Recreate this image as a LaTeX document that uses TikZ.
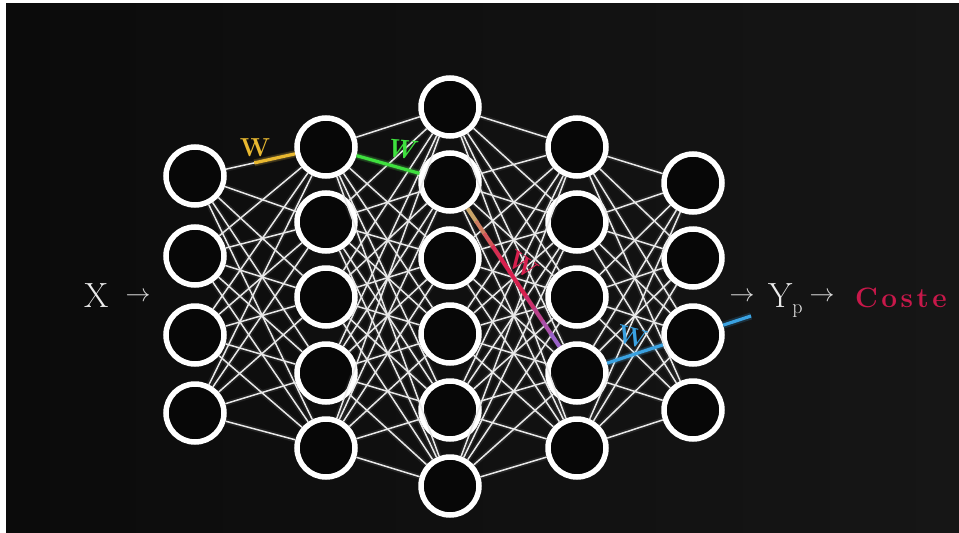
\documentclass[tikz,border=0pt]{standalone}
\usepackage{fontspec}

\definecolor{bgleft}{HTML}{0B0B0B}
\definecolor{bgright}{HTML}{161616}
\definecolor{cellfill}{HTML}{070707}
\definecolor{synwhite}{HTML}{E8E8E8}
\definecolor{wyellow}{HTML}{E8B830}
\definecolor{wgreen}{HTML}{3EE03E}
\definecolor{wtan}{HTML}{C8A468}
\definecolor{wred}{HTML}{D8204E}
\definecolor{wpurple}{HTML}{9A62C8}
\definecolor{wblue}{HTML}{3AA2E2}
\definecolor{costered}{HTML}{C8184A}

\begin{document}
\begin{tikzpicture}[x=1pt,y=-1pt]
    \tikzstyle{neuron}=[circle,draw=white,fill=cellfill,line width=5.5pt,minimum size=58pt,inner sep=0pt]
    \tikzstyle{synapse}=[draw=synwhite,line width=1.5pt,preaction={draw=white,line width=5pt,opacity=0.08}]
    \tikzstyle{weight}=[line width=3.2pt]
    \tikzstyle{wlabel}=[font=\fontsize{26}{26}\selectfont\bfseries,inner sep=0pt]
    \tikzstyle{bigtext}=[text=white!92!black,font=\fontsize{35}{35}\selectfont,inner sep=0pt]
    \tikzstyle{arrowtext}=[text=white!85!black,font=\fontsize{24}{24}\selectfont,inner sep=0pt]
    \newcommand{\gap}{\hspace{3.5pt}}

    \useasboundingbox (0,0) rectangle (959,533);
    \fill[white] (0,0) rectangle (959,533);
    \shade[left color=bgleft,right color=bgright] (6,3) rectangle (959,533);

    % layers of the network
    \foreach \y [count=\i] in {176,256,335,413} \node[neuron] (a\i) at (195,\y) {};
    \foreach \y [count=\i] in {147,222,297,373,448} \node[neuron] (b\i) at (326,\y) {};
    \foreach \y [count=\i] in {107,182,258,334,410,486} \node[neuron] (c\i) at (450,\y) {};
    \foreach \y [count=\i] in {147,222,297,373,448} \node[neuron] (d\i) at (577,\y) {};
    \foreach \y [count=\i] in {183,258,335,410} \node[neuron] (e\i) at (693,\y) {};

    % full connections
    \foreach \i in {1,...,4} \foreach \j in {1,...,5} \draw[synapse] (a\i) -- (b\j);
    \foreach \i in {1,...,5} \foreach \j in {1,...,6} \draw[synapse] (b\i) -- (c\j);
    \foreach \i in {1,...,6} \foreach \j in {1,...,5} \draw[synapse] (c\i) -- (d\j);
    \foreach \i in {1,...,5} \foreach \j in {1,...,4} \draw[synapse] (d\i) -- (e\j);

    % highlighted weights
    \draw[weight,draw=wyellow,shorten <=29pt,preaction={draw=wyellow,line width=7pt,opacity=0.2,shorten <=29pt}] (a1) -- (b1);
    \draw[weight,draw=wgreen,preaction={draw=wgreen,line width=7pt,opacity=0.2}] (b1) -- (c2);
    \foreach \k in {0,...,10} {
        \pgfmathtruncatemacro\pa{min(100,\k*30)}
        \pgfmathtruncatemacro\pb{max(0,(\k-6)*25)}
        \pgfmathsetmacro\sa{\k*15}
        \pgfmathsetmacro\sb{max(0,(10-\k)*15-1)}
        \colorlet{segcol}{wred!\pa!wtan}
        \colorlet{segcol}{wpurple!\pb!segcol}
        \draw[weight,draw=segcol,line width=4pt,shorten <=\sa pt,shorten >=\sb pt] (c2) -- (d4);
    }
    \coordinate (yin) at (751,316);
    \draw[weight,draw=wblue,preaction={draw=wblue,line width=7pt,opacity=0.2}] (d4) -- (e3);
    \draw[weight,draw=wblue,preaction={draw=wblue,line width=7pt,opacity=0.2}] (e3) -- (yin);

    \node[wlabel,text=wyellow] (wa) at (255,148) {W};
    \node[wlabel,text=wgreen,rotate=-5] (wb) at (400,149) {\itshape W};
    \node[wlabel,text=wred,rotate=-35] (wc) at (523,265) {W};
    \node[wlabel,text=wblue,rotate=-15] (wd) at (632,337) {W};

    % input and output
    \node[bigtext,anchor=base] (xin) at (97,307) {X};
    \node[arrowtext] (xarrow) at (138,297) {$\rightarrow$};
    \node[arrowtext] (yarrow) at (742,297) {$\rightarrow$};
    \node[bigtext,anchor=base west] (yp) at (768,307) {Y\raisebox{-6pt}{\fontsize{20}{20}\selectfont p}};
    \node[arrowtext] (carrow) at (822,297) {$\rightarrow$};
    \node[anchor=base west,inner sep=0pt,text=costered,font=\fontsize{28}{28}\selectfont\bfseries] (cost) at (855,307) {C\gap o\gap s\gap t\gap e};
\end{tikzpicture}
\end{document}
